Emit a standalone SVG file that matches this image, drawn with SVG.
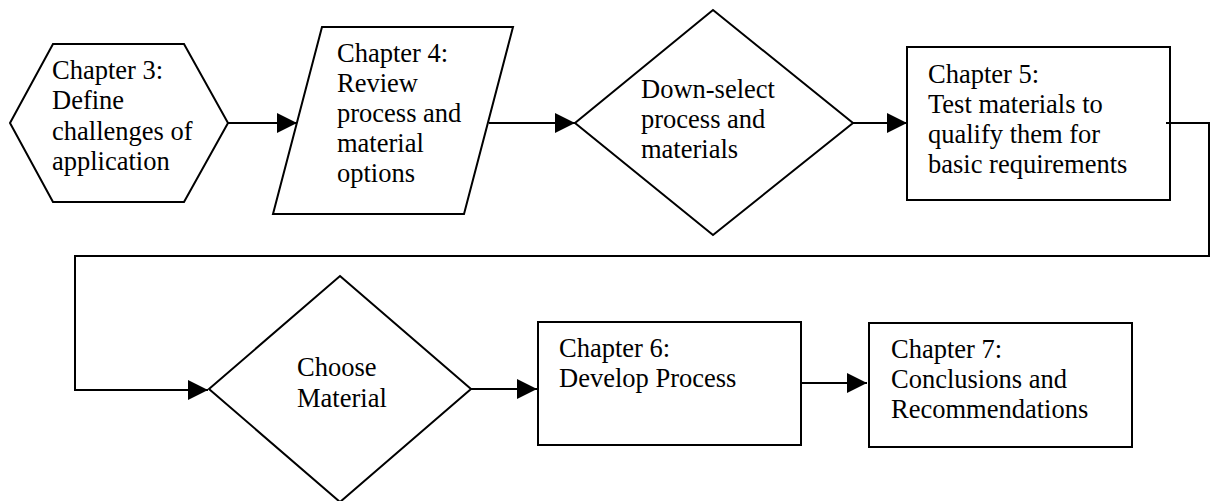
<svg xmlns="http://www.w3.org/2000/svg" width="1211" height="501" viewBox="0 0 1211 501">
<style>
.shape{fill:#fff;stroke:#000;stroke-width:2;stroke-linejoin:miter}
.conn{fill:none;stroke:#000;stroke-width:2}
text{font-family:"Liberation Serif","Times New Roman",serif;font-size:26.5px;fill:#000}
</style>
<defs>
<marker id="arr" markerUnits="userSpaceOnUse" markerWidth="20" markerHeight="20" refX="20" refY="10" orient="auto">
<path d="M0,0 L20,10 L0,20 z" fill="#000"/>
</marker>
</defs>
<rect width="1211" height="501" fill="#fff"/>
<g id="n1">
<polygon class="shape" points="10,123 53,44 184,44 228,123 184,202 53,202"/>
<text x="52" y="79">Chapter 3:</text>
<text x="52" y="109">Define</text>
<text x="52" y="140">challenges of</text>
<text x="52" y="170">application</text>
</g>
<g id="n2">
<polygon class="shape" points="322,27 513,27 464,214 273,214"/>
<text x="337" y="62">Chapter 4:</text>
<text x="337" y="92">Review</text>
<text x="337" y="122">process and</text>
<text x="337" y="152">material</text>
<text x="337" y="182">options</text>
</g>
<g id="n3">
<polygon class="shape" points="713,10 853,123 713,235 575,123"/>
<text x="641" y="98">Down-select</text>
<text x="641" y="128">process and</text>
<text x="641" y="158">materials</text>
</g>
<g id="n4">
<rect class="shape" x="907" y="47" width="263" height="153"/>
<text x="928" y="83">Chapter 5:</text>
<text x="928" y="113">Test materials to</text>
<text x="928" y="143">qualify them for</text>
<text x="928" y="173">basic requirements</text>
</g>
<g id="n5">
<polygon class="shape" points="340,276 471,389 340,502 209,389"/>
<text x="297" y="376">Choose</text>
<text x="297" y="407">Material</text>
</g>
<g id="n6">
<rect class="shape" x="538" y="322" width="263" height="123"/>
<text x="559" y="357">Chapter 6:</text>
<text x="559" y="387">Develop Process</text>
</g>
<g id="n7">
<rect class="shape" x="869" y="323" width="263" height="124"/>
<text x="891" y="358">Chapter 7:</text>
<text x="891" y="388">Conclusions and</text>
<text x="891" y="418">Recommendations</text>
</g>
<g id="connectors">
<line class="conn" x1="228" y1="123" x2="297" y2="123" marker-end="url(#arr)"/>
<line class="conn" x1="489" y1="123" x2="575" y2="123" marker-end="url(#arr)"/>
<line class="conn" x1="853" y1="123" x2="907" y2="123" marker-end="url(#arr)"/>
<path class="conn" d="M1166,123 H1209 V256 H75 V390 H208" marker-end="url(#arr)"/>
<line class="conn" x1="471" y1="389" x2="537" y2="389" marker-end="url(#arr)"/>
<line class="conn" x1="801" y1="383" x2="867" y2="383" marker-end="url(#arr)"/>
</g>
</svg>
